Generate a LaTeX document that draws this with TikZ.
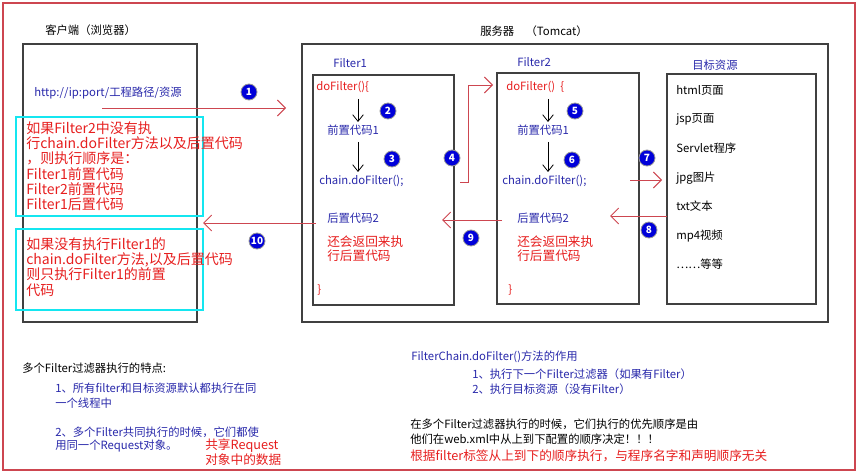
\documentclass[tikz,border=0pt]{standalone}
\usepackage{fontspec}
\setmainfont{Noto Sans CJK SC}
\newfontfamily\cjkb{Noto Sans CJK SC}
\usetikzlibrary{arrows.meta}
\definecolor{tblue}{RGB}{40,40,170}
\definecolor{tred}{RGB}{230,30,30}
\definecolor{lred}{RGB}{205,70,80}
\definecolor{cyanb}{RGB}{20,230,240}
\begin{document}
\begin{tikzpicture}[x=0.75pt,y=-0.75pt,
  box/.style={draw=black!75,line width=0.8pt},
  t/.style={anchor=west,inner sep=0pt,font=\fontsize{8.5}{10}\selectfont},
  bt/.style={t,text=tblue},
  rt/.style={t,text=tred},
  big/.style={anchor=north west,inner sep=0pt,text=tred,align=left,font=\fontsize{10.5}{11.5}\selectfont},
  num/.style={circle,fill=blue!85!black,draw=black!40,line width=0.6pt,text=white,inner sep=0pt,minimum size=12pt,font=\bfseries\fontsize{7.5}{8}\selectfont},
  arr/.style={draw=lred,line width=0.7pt,-{Straight Barb[length=6pt,width=12pt]}},
  dn/.style={draw=black,line width=0.6pt,-{Straight Barb[length=5pt,width=8pt]}},
  cy/.style={draw=cyanb,line width=2.2pt}]
\useasboundingbox (0,0) rectangle (860,474);
\draw[lred,line width=0.8pt] (3,3) rectangle (855,470);
% client
\node[t] (ct) at (45,30) {客户端（浏览器）};
\draw[box] (23,44) rectangle (197,322);
\node[bt] (url) at (34,93) {http://ip:port/工程路径/资源};
\node[num] (n1) at (249,92) {1};
% server
\node[t] (st) at (480,31) {服务器\quad（Tomcat）};
\draw[box] (302,44) rectangle (828,322);
\node[bt] (f1l) at (333,63) {Filter1};
\draw[box] (313,75) rectangle (454,305);
\node[bt] (f2l) at (517,62) {Filter2};
\draw[box] (497,73) rectangle (639,304);
\node[bt] (tgl) at (692,65) {目标资源};
\draw[box] (667,74) rectangle (816,304);
% targets
\foreach \y/\s in {90/html页面,119/jsp页面,148/Servlet程序,178/jpg图片,206/txt文本,236/mp4视频,264/……等等}
  \node[t] at (676,\y) {\s};
% filter1
\node[rt] (d1) at (316,87) {doFilter()\{};
\node[bt] (p1) at (327,130) {前置代码1};
\node[bt] (c1) at (319,181) {chain.doFilter();};
\node[bt] (h1) at (327,218) {后置代码2};
\node[rt,align=left,anchor=north west,font=\fontsize{9.5}{10.5}\selectfont] (r1) at (327,236) {还会返回来执\\行后置代码};
\node[rt] (e1) at (317,290) {\}};
\draw[dn] (358,99) -- (358,122);
\draw[dn] (358,142) -- (358,172);
% filter2
\node[rt] (d2) at (506,87) {doFilter()\ \ \{};
\node[bt] (p2) at (517,130) {前置代码1};
\node[bt] (c2) at (502,181) {chain.doFilter();};
\node[bt] (h2) at (517,218) {后置代码2};
\node[rt,align=left,anchor=north west,font=\fontsize{9.5}{10.5}\selectfont] (r2) at (517,236) {还会返回来执\\行后置代码};
\node[rt] (e2) at (508,290) {\}};
\draw[dn] (548,99) -- (548,122);
\draw[dn] (548,142) -- (548,172);
% numbers
\node[num] (n2) at (388,111) {2};
\node[num] (n3) at (392,159) {3};
\node[num] (n4) at (452,158) {4};
\node[num] (n5) at (575,111) {5};
\node[num] (n6) at (572,160) {6};
\node[num] (n7) at (647,158) {7};
\node[num] (n8) at (649,230) {8};
\node[num] (n9) at (471,238) {9};
\node[num] (n10) at (257,241) {10};
% arrows
\coordinate (a1s) at (102,108); \coordinate (a1e) at (286,108);
\draw[arr] (a1s) -- (a1e);
\coordinate (a4s) at (460,182); \coordinate (a4e) at (493,85);
\draw[arr] (a4s) -- (468,182) -- (468,85) -- (a4e);
\coordinate (a7s) at (630,180); \coordinate (a7e) at (662,180);
\draw[arr] (a7s) -- (a7e);
\coordinate (a8s) at (667,216); \coordinate (a8e) at (610,216);
\draw[arr] (a8s) -- (a8e);
\coordinate (a9s) at (502,220); \coordinate (a9e) at (442,220);
\draw[arr] (a9s) -- (a9e);
\coordinate (a10s) at (316,223); \coordinate (a10e) at (203,223);
\draw[arr] (a10s) -- (a10e);
% cyan boxes
\draw[cy] (16,117) rectangle (203,216);
\draw[cy] (16,229) rectangle (203,310);
\node[big] (b1) at (26,121) {如果Filter2中没有执\\行chain.doFilter方法以及后置代码\\，则执行顺序是：\\Filter1前置代码\\Filter2前置代码\\Filter1后置代码};
\node[big] (b2) at (26,237) {如果没有执行Filter1的\\chain.doFilter方法,以及后置代码\\则只执行Filter1的前置\\代码};
% bottom
\node[t] (q0) at (22,368) {多个Filter过滤器执行的特点:};
\node[bt] (q1) at (55,388) {1、所有filter和目标资源默认都执行在同};
\node[bt] (q2) at (55,403) {一个线程中};
\node[bt] (q3) at (55,432) {2、多个Filter共同执行的时候，它们都使};
\node[bt] (q4) at (55,446) {用同一个Request对象。};
\node[rt,font=\fontsize{9.5}{10}\selectfont] (q5) at (205,446) {共享Request};
\node[rt,font=\fontsize{9.5}{10}\selectfont] (q6) at (205,460) {对象中的数据};
\node[bt] (w0) at (411,357) {FilterChain.doFilter()方法的作用};
\node[bt] (w1) at (472,374) {1、执行下一个Filter过滤器（如果有Filter）};
\node[bt] (w2) at (472,389) {2、执行目标资源（没有Filter）};
\node[t] (w3) at (410,424) {在多个Filter过滤器执行的时候，它们执行的优先顺序是由};
\node[t] (w4) at (410,439) {他们在web.xml中从上到下配置的顺序决定！！！};
\node[rt,font=\fontsize{9.5}{10}\selectfont] (w5) at (410,456) {根据filter标签从上到下的顺序执行，与程序名字和声明顺序无关};
\end{tikzpicture}
\end{document}
